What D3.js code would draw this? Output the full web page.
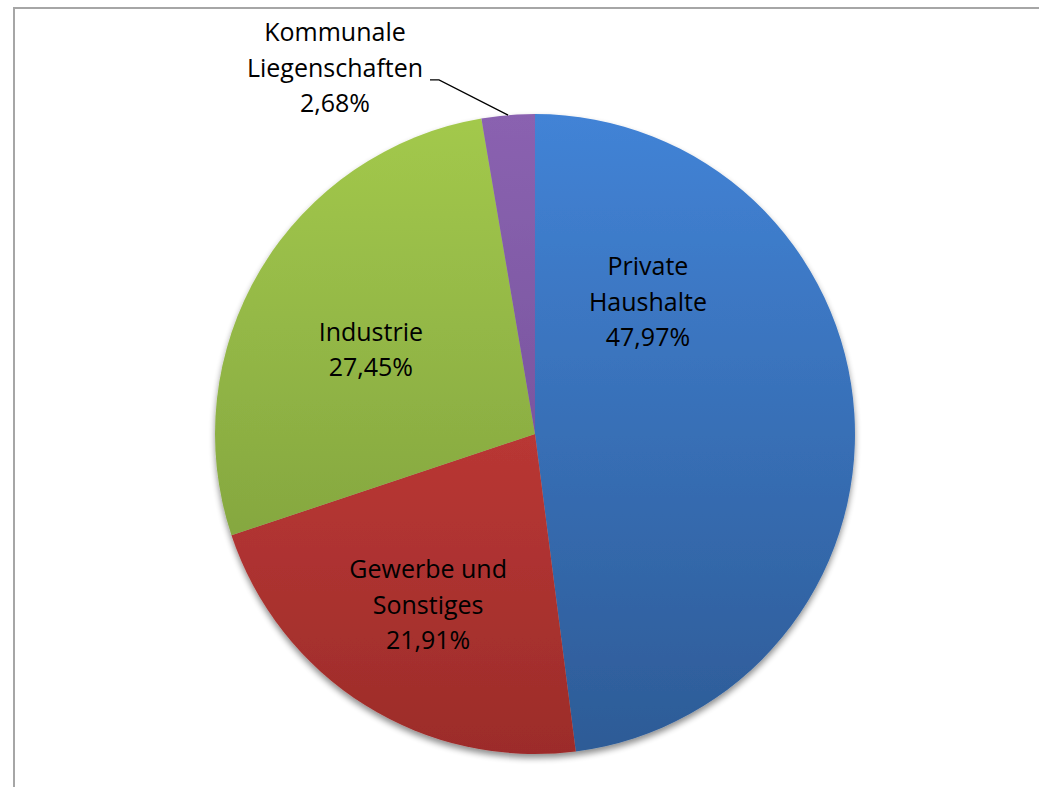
<!DOCTYPE html>
<html>
  <head>
    <meta charset="utf-8">
    <style>
    body { margin: 0; background: #fff; }
    svg { display: block; }
    .lbl { font-family: "Open Sans", "Noto Sans", sans-serif; font-size: 25px; fill: #000; }
    </style>
  </head>
  <body>
    <div id="chart-area"></div>

    <script src="https://d3js.org/d3.v7.min.js"></script>
    <script>
      // data
      const categories = ["Private Haushalte", "Gewerbe und Sonstiges", "Industrie", "Kommunale Liegenschaften"];
      const shares = [47.97, 21.91, 27.45, 2.68];
      const labelLines = [
        ["Private", "Haushalte", "47,97%"],
        ["Gewerbe und", "Sonstiges", "21,91%"],
        ["Industrie", "27,45%"],
        ["Kommunale", "Liegenschaften", "2,68%"]
      ];
      // label anchors, in units of the pie radius, relative to centre
      const labelAnchors = [[0.353, -0.413], [-0.334, 0.534], [-0.513, -0.263], [-0.625, -1.144]];
      const topColors = ["#4283d6", "#d6423e", "#a3c94c", "#8a62b0"];
      const bottomColors = ["#2d5b96", "#9c2c2a", "#76963a", "#6a4a90"];

      const width = 1039;
      const height = 787;
      const cx = 535, cy = 434, radius = 320;
      const lineH = 35.5;

      const svg = d3.select("#chart-area")
        .append("svg")
          .attr("width", width)
          .attr("height", height);

      // frame
      svg.append("rect")
        .attr("x", 14)
        .attr("y", 8)
        .attr("width", width + 20)
        .attr("height", height + 20)
        .attr("fill", "#fff")
        .attr("stroke", "#a6a6a6")
        .attr("stroke-width", 2);

      const defs = svg.append("defs");

      const shadow = defs.append("filter")
        .attr("id", "shadow")
        .attr("x", "-10%").attr("y", "-10%")
        .attr("width", "120%").attr("height", "120%");
      shadow.append("feGaussianBlur").attr("in", "SourceAlpha").attr("stdDeviation", 3);
      shadow.append("feOffset").attr("dx", 0).attr("dy", 4).attr("result", "off");
      shadow.append("feComponentTransfer").append("feFuncA").attr("type", "linear").attr("slope", 0.45);
      const merge = shadow.append("feMerge");
      merge.append("feMergeNode");
      merge.append("feMergeNode").attr("in", "SourceGraphic");

      topColors.forEach((c, i) => {
        const g = defs.append("linearGradient")
          .attr("id", "grad" + i)
          .attr("gradientUnits", "userSpaceOnUse")
          .attr("x1", 0).attr("y1", -radius)
          .attr("x2", 0).attr("y2", radius);
        g.append("stop").attr("offset", "0%").attr("stop-color", c);
        g.append("stop").attr("offset", "100%").attr("stop-color", bottomColors[i]);
      });

      const g = svg.append("g")
        .attr("transform", `translate(${cx}, ${cy})`);

      const pie = d3.pie()
        .value(d => d)
        .sort(null);

      const arc = d3.arc()
        .innerRadius(0)
        .outerRadius(radius);

      const arcs = pie(shares);

      g.append("g")
        .attr("filter", "url(#shadow)")
        .selectAll("path")
        .data(arcs)
        .enter().append("path")
          .attr("d", arc)
          .attr("fill", (d, i) => `url(#grad${i})`);

      // leader line for the small slice
      const small = arcs[3];
      const mid = (small.startAngle + small.endAngle) / 2;
      const ex = Math.sin(mid) * radius;
      const ey = -Math.cos(mid) * radius;
      const lx = labelAnchors[3][0] * radius;
      const ly = labelAnchors[3][1] * radius;
      g.append("polyline")
        .attr("points", [[lx + 95, ly + 12], [lx + 104, ly + 12], [ex, ey]].map(p => p.join(",")).join(" "))
        .attr("fill", "none")
        .attr("stroke", "#000")
        .attr("stroke-width", 1.2);

      // labels
      labelLines.forEach((lines, i) => {
        const ax = labelAnchors[i][0] * radius;
        const ay = labelAnchors[i][1] * radius;
        const t = g.append("text")
          .attr("class", "lbl")
          .attr("text-anchor", "middle");
        lines.forEach((s, j) => {
          t.append("tspan")
            .attr("x", ax)
            .attr("y", ay + (j - (lines.length - 1) / 2) * lineH)
            .attr("dy", "0.35em")
            .text(s);
        });
      });
    </script>
  </body>
</html>
